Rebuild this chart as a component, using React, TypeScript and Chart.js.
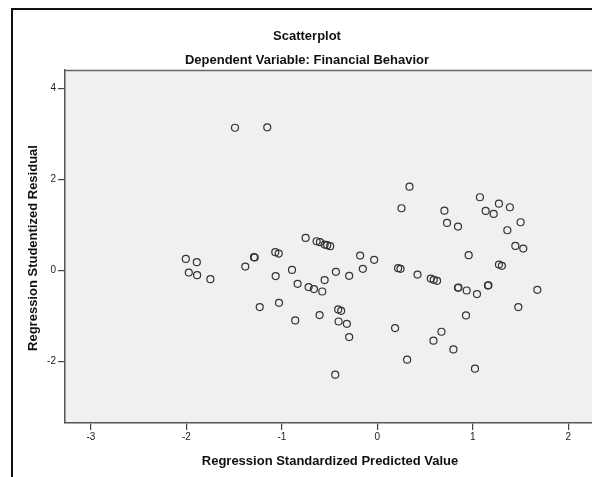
import { useEffect, useRef } from 'react';
import { Chart, registerables } from 'chart.js';

Chart.register(...registerables);

const chartTitle = 'Scatterplot';
const chartSubtitle = 'Dependent Variable: Financial Behavior';
const xAxisTitle = 'Regression Standardized Predicted Value';
const yAxisTitle = 'Regression Studentized Residual';

const xTickValues = [-3, -2, -1, 0, 1, 2];
const yTickValues = [-2, 0, 2, 4];

const predicted = [
  -2.006, -1.891, -1.975, -1.888, -1.749, -1.383, -1.292, -1.285, -1.069, -1.033,
  -1.065, -0.894, -0.835, -0.751, -0.720, -0.664, -0.636, -0.601, -0.552, -0.525,
  -0.494, -0.577, -0.552, -0.434, -0.295, -0.180, -0.152, -0.033, 0.218, 0.243,
  0.253, 0.337, 0.703, 0.730, 0.845, 1.075, 1.135, 1.219, 1.274, 1.389,
  1.501, 1.362, 1.446, 1.529, 0.957, 0.421, 0.560, 0.591, 0.626, 0.845,
  0.850, 0.936, 1.044, 1.159, 1.164, 1.274, 1.305, 1.676, 1.477, -1.232,
  -1.030, -0.410, -0.379, -0.860, -0.605, -0.406, -0.319, -0.295, 0.186, -0.441,
  0.929, 0.672, 0.588, 0.797, 0.312, 1.023, -1.491, -1.153,
];

const residual = [
  0.252, 0.180, -0.049, -0.106, -0.194, 0.083, 0.290, 0.283, 0.399, 0.369,
  -0.127, 0.010, -0.297, 0.714, -0.369, -0.413, 0.641, 0.620, 0.567, 0.554,
  0.532, -0.466, -0.215, -0.033, -0.121, 0.325, 0.033, 0.231, 0.048, 0.033,
  1.367, 1.842, 1.314, 1.044, 0.963, 1.609, 1.308, 1.242, 1.468, 1.389,
  1.059, 0.883, 0.538, 0.479, 0.334, -0.093, -0.180, -0.209, -0.230, -0.385,
  -0.377, -0.444, -0.523, -0.335, -0.328, 0.128, 0.099, -0.429, -0.809, -0.809,
  -0.714, -0.861, -0.890, -1.103, -0.985, -1.126, -1.176, -1.468, -1.271, -2.297,
  -0.993, -1.351, -1.549, -1.740, -1.967, -2.165, 3.139, 3.148,
];

const FONT = '"Liberation Sans", Arial, Helvetica, sans-serif';

const framePlugin = {
  id: 'spssFrame',
  beforeDraw(chart: any) {
    const { ctx, chartArea } = chart;
    ctx.save();
    ctx.fillStyle = '#ffffff';
    ctx.fillRect(0, 0, chart.width, chart.height);
    ctx.fillStyle = '#f0f0f0';
    ctx.fillRect(chartArea.left, chartArea.top, chartArea.right - chartArea.left, chartArea.bottom - chartArea.top);
    ctx.restore();
  },
  afterDraw(chart: any) {
    const { ctx, chartArea } = chart;
    ctx.save();
    // plot top border
    ctx.strokeStyle = '#666666';
    ctx.lineWidth = 1.5;
    ctx.beginPath();
    ctx.moveTo(chartArea.left, chartArea.top + 0.5);
    ctx.lineTo(chart.width, chartArea.top + 0.5);
    ctx.stroke();
    // outer frame
    ctx.strokeStyle = '#111111';
    ctx.lineWidth = 2;
    ctx.beginPath();
    ctx.moveTo(12, chart.height);
    ctx.lineTo(12, 9);
    ctx.lineTo(chart.width, 9);
    ctx.stroke();
    // titles
    ctx.fillStyle = '#111111';
    ctx.textAlign = 'center';
    ctx.textBaseline = 'middle';
    ctx.font = `bold 13px ${FONT}`;
    ctx.fillText(chartTitle, 307, 36);
    ctx.fillText(chartSubtitle, 307, 60);
    ctx.fillText(xAxisTitle, 330, 461);
    ctx.translate(33, 248);
    ctx.rotate(-Math.PI / 2);
    ctx.fillText(yAxisTitle, 0, 0);
    ctx.restore();
  },
};

export default function App() {
  const canvasRef = useRef<HTMLCanvasElement | null>(null);

  useEffect(() => {
    document.body.style.margin = '0';
    const canvas = canvasRef.current;
    if (!canvas) return;
    const points = predicted.map((x, i) => ({ x, y: residual[i] }));
    const chart = new Chart(canvas, {
      type: 'scatter',
      data: {
        datasets: [
          {
            data: points,
            pointStyle: 'circle',
            pointRadius: 3.5,
            pointBorderWidth: 1.2,
            pointBackgroundColor: 'rgba(0,0,0,0)',
            pointBorderColor: '#333333',
          },
        ],
      },
      options: {
        responsive: false,
        animation: false,
        layout: { autoPadding: false, padding: { top: 70, left: 0, right: 0, bottom: 0 } },
        plugins: {
          legend: { display: false },
          tooltip: { enabled: false },
          title: { display: false },
        },
        scales: {
          x: {
            type: 'linear',
            min: -3.272,
            max: 2.249,
            afterFit: (s: any) => {
              s.height = 54;
              s.paddingLeft = 0;
              s.paddingRight = 0;
            },
            afterBuildTicks: (s: any) => {
              s.ticks = xTickValues.map((v) => ({ value: v }));
            },
            grid: {
              display: true,
              drawOnChartArea: false,
              drawTicks: true,
              tickLength: 7,
              color: '#444444',
              lineWidth: 1.2,
            },
            border: { display: true, color: '#555555', width: 1.5 },
            ticks: {
              color: '#222222',
              font: { family: FONT, size: 10 },
              padding: 1,
              maxRotation: 0,
              callback: (v: any) => String(v),
            },
          },
          y: {
            type: 'linear',
            min: -3.36,
            max: 4.41,
            afterFit: (s: any) => {
              s.width = 65;
              s.paddingTop = 0;
              s.paddingBottom = 0;
            },
            afterBuildTicks: (s: any) => {
              s.ticks = yTickValues.map((v) => ({ value: v }));
            },
            grid: {
              display: true,
              drawOnChartArea: false,
              drawTicks: true,
              tickLength: 7,
              color: '#444444',
              lineWidth: 1.2,
            },
            border: { display: true, color: '#555555', width: 1.5 },
            ticks: {
              color: '#222222',
              font: { family: FONT, size: 10 },
              padding: 2,
              callback: (v: any) => String(v),
            },
          },
        },
      },
      plugins: [framePlugin],
    });
    return () => chart.destroy();
  }, []);

  return <canvas ref={canvasRef} width={592} height={477} style={{ display: 'block' }} />;
}
